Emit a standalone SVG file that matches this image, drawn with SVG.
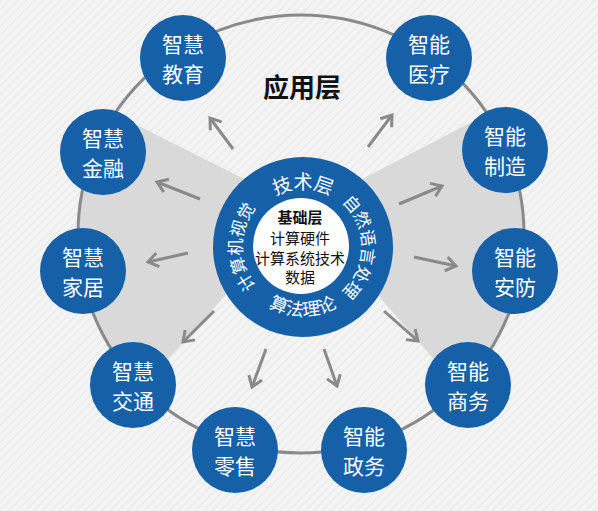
<svg xmlns="http://www.w3.org/2000/svg" width="598" height="511" viewBox="0 0 598 511">
<defs>
<style>
.node{fill:#1560a6}
.nt{font-family:"Noto Sans CJK SC","Noto Sans",sans-serif;font-size:21px;fill:#ffffff;text-anchor:middle}
.conn{stroke:#8a8a8a;stroke-width:3;fill:none;marker-end:url(#arr)}
.wedge{fill:#d9d9d9}
.rt{font-family:"Noto Sans CJK SC","Noto Sans",sans-serif;fill:#ffffff;text-anchor:middle}
.ct{font-family:"Noto Sans CJK SC","Noto Sans",sans-serif;font-size:15px;fill:#111111;text-anchor:middle}
</style>
<pattern id="stripes" width="6" height="6" patternUnits="userSpaceOnUse" patternTransform="rotate(45)">
<rect width="6" height="6" fill="#f4f4f4"/>
<rect width="2" height="6" fill="#ececec"/>
</pattern>
<marker id="arr" viewBox="-2 -2 14 18" refX="10" refY="7" markerWidth="14" markerHeight="18" markerUnits="userSpaceOnUse" orient="auto" overflow="visible">
<path d="M0,0 L10,7 L0,14" fill="none" stroke="#8a8a8a" stroke-width="3" stroke-linejoin="miter"/>
</marker>
<path id="arcTop" d="M 245 247 A 58 58 0 0 1 361 247"/>
<path id="arcRight" d="M 303 188 A 59 59 0 0 1 303 306"/>
<path id="arcBottom" d="M 234 247 A 69 69 0 0 0 372 247"/>
<path id="arcLeft" d="M 303 308 A 61 61 0 0 1 303 186"/>
</defs>
<rect width="598" height="511" fill="url(#stripes)"/>
<path class="wedge" d="M 115 114 L 280 197 L 303 247 L 250 268 L 142 388 A 223 219 0 0 1 115 114 Z"/>
<path class="wedge" d="M 487 114 L 330 196 L 303 247 L 356 270 L 460 389 A 223 219 0 0 0 487 114 Z"/>
<ellipse cx="301" cy="234" rx="223" ry="219" fill="none" stroke="#8a8a8a" stroke-width="3"/>
<g id="connectors">
<line class="conn" x1="233" y1="149" x2="210" y2="118"/>
<line class="conn" x1="200" y1="199" x2="157" y2="182"/>
<line class="conn" x1="188" y1="253" x2="148" y2="262"/>
<line class="conn" x1="214" y1="311" x2="183" y2="342"/>
<line class="conn" x1="266" y1="349" x2="252" y2="387"/>
<line class="conn" x1="324" y1="349" x2="337" y2="386"/>
<line class="conn" x1="384" y1="311" x2="418" y2="341"/>
<line class="conn" x1="414" y1="257" x2="456" y2="266"/>
<line class="conn" x1="399" y1="204" x2="442" y2="186"/>
<line class="conn" x1="368" y1="147" x2="392" y2="115"/>
</g>
<g id="core">
<circle cx="303" cy="247" r="90" fill="#1560a6"/>
<circle cx="301" cy="246" r="48" fill="#ffffff"/>
<text class="rt" font-size="19"><textPath href="#arcTop" startOffset="50%">技术层</textPath></text>
<text class="rt" font-size="17"><textPath href="#arcRight" startOffset="50%">自然语言处理</textPath></text>
<text class="rt" font-size="18"><textPath href="#arcBottom" startOffset="50%">算法理论</textPath></text>
<text class="rt" font-size="17"><textPath href="#arcLeft" startOffset="50%">计算机视觉</textPath></text>
<text class="ct"><tspan x="300" y="223" font-weight="bold">基础层</tspan><tspan x="300" y="244">计算硬件</tspan><tspan x="300" y="264">计算系统技术</tspan><tspan x="300" y="283">数据</tspan></text>
</g>
<text x="302" y="97" font-family="'Noto Sans CJK SC','Noto Sans',sans-serif" font-size="26" font-weight="bold" fill="#111111" text-anchor="middle">应用层</text>
<g id="node-edu"><circle class="node" cx="183" cy="58" r="43"/><text class="nt"><tspan x="183" y="52">智慧</tspan><tspan x="183" y="82">教育</tspan></text></g>
<g id="node-med"><circle class="node" cx="429" cy="58" r="43"/><text class="nt"><tspan x="429" y="52">智能</tspan><tspan x="429" y="82">医疗</tspan></text></g>
<g id="node-fin"><circle class="node" cx="103" cy="152" r="43"/><text class="nt"><tspan x="103" y="146">智慧</tspan><tspan x="103" y="176">金融</tspan></text></g>
<g id="node-mfg"><circle class="node" cx="505" cy="150" r="43"/><text class="nt"><tspan x="505" y="144">智能</tspan><tspan x="505" y="174">制造</tspan></text></g>
<g id="node-home"><circle class="node" cx="83" cy="271" r="43"/><text class="nt"><tspan x="83" y="265">智慧</tspan><tspan x="83" y="295">家居</tspan></text></g>
<g id="node-sec"><circle class="node" cx="515" cy="271" r="43"/><text class="nt"><tspan x="515" y="265">智能</tspan><tspan x="515" y="295">安防</tspan></text></g>
<g id="node-traffic"><circle class="node" cx="133" cy="385" r="43"/><text class="nt"><tspan x="133" y="379">智慧</tspan><tspan x="133" y="409">交通</tspan></text></g>
<g id="node-biz"><circle class="node" cx="468" cy="385" r="43"/><text class="nt"><tspan x="468" y="379">智能</tspan><tspan x="468" y="409">商务</tspan></text></g>
<g id="node-retail"><circle class="node" cx="235" cy="450" r="43"/><text class="nt"><tspan x="235" y="444">智慧</tspan><tspan x="235" y="474">零售</tspan></text></g>
<g id="node-gov"><circle class="node" cx="364" cy="450" r="43"/><text class="nt"><tspan x="364" y="444">智能</tspan><tspan x="364" y="474">政务</tspan></text></g>
</svg>
